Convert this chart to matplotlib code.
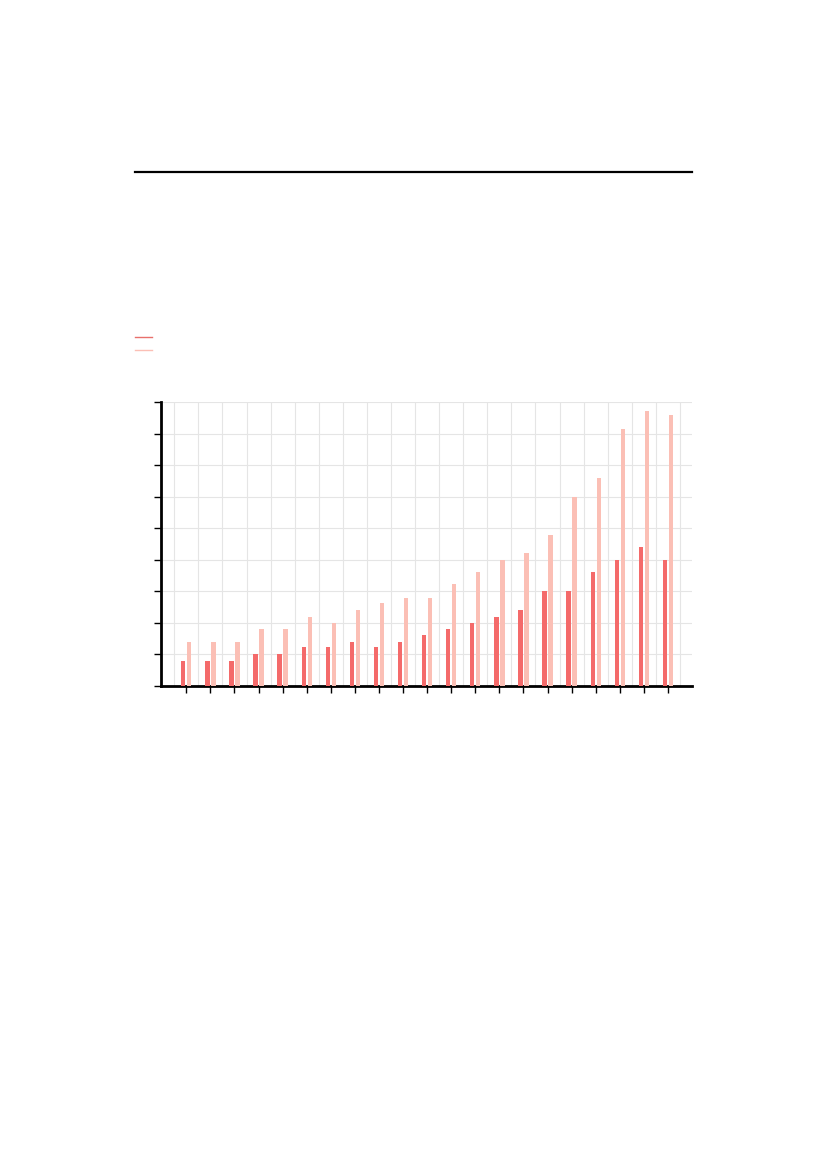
import numpy as np
import matplotlib
matplotlib.use('Agg')
import matplotlib.pyplot as plt
from matplotlib.lines import Line2D

# Values, in grid units (the chart carries no text)
categories = list(range(21))
series_a = [0.78, 0.78, 0.78, 1.0, 1.0, 1.22, 1.22, 1.38, 1.22, 1.38, 1.6,
            1.8, 2.0, 2.18, 2.4, 3.0, 3.0, 3.6, 4.0, 4.4, 4.0]
series_b = [1.38, 1.38, 1.38, 1.8, 1.8, 2.2, 2.0, 2.4, 2.62, 2.78, 2.78,
            3.22, 3.6, 4.0, 4.2, 4.8, 6.0, 6.58, 8.14, 8.73, 8.58]
y_ticks = list(range(10))

dark = '#f46a6a'
light = '#fbbfb5'

fig = plt.figure(figsize=(8.27, 11.69), dpi=100)
ax = fig.add_axes([0.1947, 0.4132, 0.6421, 0.2429])

x = np.arange(len(categories))
ax.bar(x - 0.125, series_a, width=0.18, color=dark, zorder=3)
ax.bar(x + 0.125, series_b, width=0.18, color=light, zorder=3)

ax.set_xlim(-1.05, 21)
ax.set_ylim(0, 9)
ax.set_xticks(x)
ax.set_xticks(x - 0.5, minor=True)
ax.set_xticks(list(x - 0.5) + [20.5], minor=True)
ax.set_yticks(y_ticks)
ax.set_xticklabels([])
ax.set_yticklabels([])

ax.grid(False)
ax.xaxis.grid(True, which='minor', color='#e5e5e5', linewidth=0.8, zorder=0)
ax.yaxis.grid(True, which='major', color='#e5e5e5', linewidth=0.8, zorder=0)
ax.tick_params(axis='x', which='minor', length=0)
ax.tick_params(axis='both', which='major', length=5, width=1.0, color='black')
ax.set_axisbelow(True)

for s in ['top', 'right']:
    ax.spines[s].set_visible(False)
for s in ['left', 'bottom']:
    ax.spines[s].set_linewidth(2)
    ax.spines[s].set_color('black')

# rule above the chart and the legend keys (no legend text in the picture)
fig.add_artist(Line2D([0.1632, 0.8368], [0.8529, 0.8529], color='black', linewidth=1.6))
fig.add_artist(Line2D([0.1632, 0.1838], [0.7117, 0.7117], color='#e8706b', linewidth=1.0))
fig.add_artist(Line2D([0.1632, 0.1838], [0.7006, 0.7006], color=light, linewidth=1.0))

fig.savefig('out.png', dpi=100)
